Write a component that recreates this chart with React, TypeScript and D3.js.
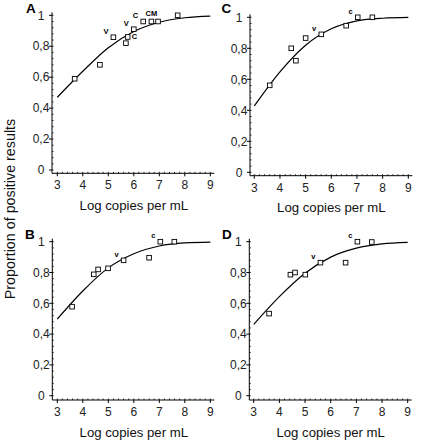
import React from "react";
import * as d3 from "d3";

// ---- data ----
const panelIds = ["A", "C", "B", "D"];

const xA = [3.68, 4.67, 5.2, 5.69, 5.76, 6.0, 6.37, 6.69, 6.95, 7.72];
const yA = [0.59, 0.68, 0.858, 0.82, 0.86, 0.91, 0.96, 0.96, 0.96, 1.0];
const labA = ["", "", "V", "", "C", "V", "C", "CM", "", ""];

const xB = [3.58, 4.43, 4.6, 4.99, 5.6, 6.6, 7.04, 7.59];
const yB = [0.578, 0.788, 0.82, 0.827, 0.879, 0.896, 1.0, 1.0];
const labB = ["", "", "", "", "v", "", "c", ""];

const xC = [3.6, 4.44, 4.62, 5.0, 5.61, 6.58, 7.03, 7.6];
const yC = [0.561, 0.8, 0.72, 0.866, 0.89, 0.946, 1.0, 1.0];
const labC = ["", "", "", "", "v", "", "c", ""];

const xD = [3.6, 4.43, 4.61, 5.01, 5.6, 6.58, 7.04, 7.6];
const yD = [0.533, 0.786, 0.8, 0.786, 0.864, 0.864, 1.0, 0.998];
const labD = ["", "", "", "", "v", "", "c", ""];

// fitted curves, read at x = 3..9
const curveX = [3, 4, 5, 6, 7, 8, 9];
const curveA = [0.47, 0.638, 0.79, 0.895, 0.955, 0.984, 0.995];
const curveB = [0.498, 0.68, 0.83, 0.922, 0.972, 0.992, 0.997];
const curveC = [0.428, 0.648, 0.82, 0.926, 0.977, 0.994, 0.999];
const curveD = [0.463, 0.643, 0.795, 0.9, 0.958, 0.986, 0.996];

const xTicks = [3, 4, 5, 6, 7, 8, 9];
const yTicks = [0, 0.2, 0.4, 0.6, 0.8, 1];
const yTickLabels = ["0", "0,2", "0,4", "0,6", "0,8", "1"];

const xTitle = "Log copies per mL";
const yTitle = "Proportion of positive results";

// ---- layout ----
const layouts: Record<string, any> = {
  A: { ax: 52, xr: [57.3, 210.3], yr: [170, 15.3], axY: 173.3, letter: [26, 12.5] },
  C: { ax: 250, xr: [254.3, 408.3], yr: [172.3, 17.3], axY: 175.7, letter: [221.5, 12.8] },
  B: { ax: 52.3, xr: [57.3, 210.3], yr: [395.7, 241.7], axY: 400, letter: [25, 238.5] },
  D: { ax: 249.3, xr: [253.7, 407.7], yr: [395.7, 241.7], axY: 400, letter: [222, 239] },
};

const panelData: Record<string, any> = {
  A: { xs: xA, ys: yA, labs: labA, curve: curveA },
  B: { xs: xB, ys: yB, labs: labB, curve: curveB },
  C: { xs: xC, ys: yC, labs: labC, curve: curveC },
  D: { xs: xD, ys: yD, labs: labD, curve: curveD },
};

const font = "Arial, 'Liberation Sans', sans-serif";
const tickColor = "#222";

function Panel({ id }: { id: string }) {
  const L = layouts[id];
  const D = panelData[id];
  const x = d3.scaleLinear().domain([3, 9]).range(L.xr);
  const y = d3.scaleLinear().domain([0, 1]).range(L.yr);
  const line = d3
    .line<number>()
    .x((_, i) => x(curveX[i]))
    .y((v) => y(v))
    .curve(d3.curveMonotoneX);
  const minorX = d3.range(3, 9.001, 0.2);
  const minorY = d3.range(0, 1.001, 0.04);
  const yTop = y(1) - 3;
  const xRight = x(9) + 4;
  return (
    <g>
      {/* axes lines */}
      <line x1={L.ax} x2={L.ax} y1={yTop} y2={L.axY} stroke="#000" strokeWidth={1} />
      <line x1={L.ax} x2={xRight} y1={L.axY} y2={L.axY} stroke="#000" strokeWidth={1} />
      {minorX.map((v, i) => (
        <line key={"mx" + i} x1={x(v)} x2={x(v)} y1={L.axY} y2={L.axY - 1.5} stroke="#000" strokeWidth={0.8} />
      ))}
      {minorY.map((v, i) => (
        <line key={"my" + i} x1={L.ax} x2={L.ax + 1.5} y1={y(v)} y2={y(v)} stroke="#000" strokeWidth={0.8} />
      ))}
      {xTicks.map((t) => (
        <g key={"xt" + t}>
          <line x1={x(t)} x2={x(t)} y1={L.axY} y2={L.axY + 3} stroke="#000" />
          <text x={x(t)} y={L.axY + 16} textAnchor="middle" fontSize={12} fontFamily={font} fill={tickColor}>
            {t}
          </text>
        </g>
      ))}
      {yTicks.map((t, i) => (
        <g key={"yt" + t}>
          <line x1={L.ax - 3} x2={L.ax} y1={y(t)} y2={y(t)} stroke="#000" />
          <text x={L.ax - 11} y={y(t) + 4.2} textAnchor="middle" fontSize={12} fontFamily={font} fill={tickColor}>
            {yTickLabels[i]}
          </text>
        </g>
      ))}
      <text
        x={(L.xr[0] + L.xr[1]) / 2}
        y={L.axY + 36.5}
        textAnchor="middle"
        fontSize={13.2}
        fontFamily={font}
        fill="#111"
      >
        {xTitle}
      </text>
      <text x={L.letter[0]} y={L.letter[1]} fontSize={13.5} fontWeight="bold" fontFamily={font} fill="#000">
        {id}
      </text>
      <path d={line(D.curve) || ""} fill="none" stroke="#000" strokeWidth={1.2} />
      {D.xs.map((xv: number, i: number) => (
        <rect
          key={"p" + i}
          x={x(xv) - 2.3}
          y={y(D.ys[i]) - 2.3}
          width={4.6}
          height={4.6}
          fill="#fff"
          stroke="#000"
          strokeWidth={0.9}
        />
      ))}
      {D.xs.map((xv: number, i: number) => {
        const lab = D.labs[i];
        if (!lab) return null;
        const right = id === "A" && i === 4;
        const above = id === "A" && i === 7;
        const px = right ? x(xv) + 4 : above ? x(xv) : x(xv) - 5;
        const py = right ? y(D.ys[i]) + 2.5 : above ? y(D.ys[i]) - 5 : y(D.ys[i]) - 3.5;
        return (
          <text
            key={"l" + i}
            x={px}
            y={py}
            textAnchor={right ? "start" : above ? "middle" : "end"}
            fontSize={7.5}
            fontWeight="bold"
            fontFamily={font}
            fill="#000"
          >
            {lab}
          </text>
        );
      })}
    </g>
  );
}

export default function App() {
  return (
    <svg
      width={423}
      height={444}
      style={{ position: "absolute", left: 0, top: 0, background: "#fff" }}
    >
      <rect width={423} height={444} fill="#fff" />
      {panelIds.map((id) => (
        <Panel key={id} id={id} />
      ))}
      <text
        transform="translate(15,209) rotate(-90)"
        textAnchor="middle"
        fontSize={14.3}
        fontFamily={font}
        fill="#111"
      >
        {yTitle}
      </text>
    </svg>
  );
}
